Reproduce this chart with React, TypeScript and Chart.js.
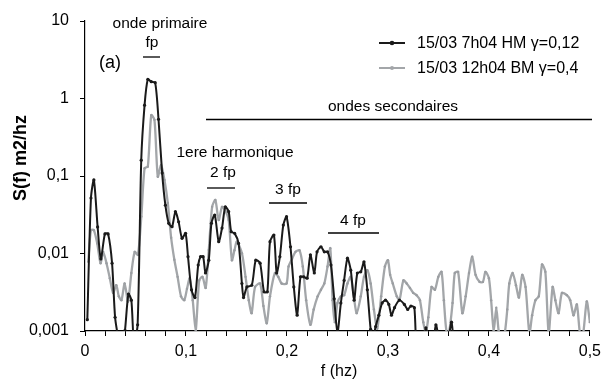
import React, { useEffect, useRef } from "react";
import { Chart, registerables } from "chart.js";
Chart.register(...registerables);

// Frequencies (Hz) and spectral density S(f) (m2/Hz)
const blackFreq = [
  0.0023, 0.0059, 0.0088, 0.0125, 0.0157, 0.0197, 0.0229, 0.0268, 0.0298, 0.033,
  0.036, 0.0396, 0.043, 0.0459, 0.0485, 0.0521, 0.0557, 0.059, 0.0622, 0.0656,
  0.0695, 0.0728, 0.0764, 0.0796, 0.0829, 0.0862, 0.0895, 0.0927, 0.0961, 0.0996,
  0.102, 0.1055, 0.1089, 0.1121, 0.1144, 0.117, 0.1193, 0.1226, 0.1252, 0.1285,
  0.1324, 0.1357, 0.1389, 0.1423, 0.1448, 0.1482, 0.1521, 0.1554, 0.157, 0.1603,
  0.1652, 0.1691, 0.1734, 0.1773, 0.1806, 0.1832, 0.1871, 0.1898, 0.193, 0.1964,
  0.1996, 0.2035, 0.2068, 0.2101, 0.2134, 0.2166, 0.22, 0.2232, 0.2271, 0.2298,
  0.2337, 0.237, 0.2402, 0.2436, 0.2468, 0.25, 0.2534, 0.2566, 0.2599, 0.2632,
  0.2665, 0.2697, 0.2731, 0.2763, 0.2796, 0.2829, 0.2852, 0.2878, 0.291, 0.2943,
  0.2976, 0.3009, 0.3035, 0.3065, 0.3114, 0.3163, 0.3196, 0.3228, 0.3262, 0.3287,
  0.332, 0.335, 0.3376, 0.341, 0.344, 0.3475, 0.351, 0.354, 0.357, 0.36,
  0.363, 0.366,
];
const blackS = [
  0.0014, 0.052, 0.089, 0.022, 0.0085, 0.0179, 0.0179, 0.0075, 0.0015, 0.0008,
  0.0005, 0.00102, 0.003, 0.0025, 0.0007, 0.0012, 0.16, 0.82, 1.77, 1.65,
  1.6, 0.54, 0.109, 0.042, 0.0245, 0.0222, 0.0346, 0.0257, 0.0157, 0.0182,
  0.0091, 0.0034, 0.0027, 0.0071, 0.0091, 0.0091, 0.0056, 0.0082, 0.0245, 0.0314,
  0.0142, 0.0213, 0.04, 0.0346, 0.0191, 0.0182, 0.0135, 0.0041, 0.0027, 0.0037,
  0.0039, 0.0082, 0.0075, 0.0032, 0.0032, 0.0142, 0.0173, 0.0056, 0.0091, 0.0233,
  0.0299, 0.0122, 0.0037, 0.0016, 0.005, 0.005, 0.0048, 0.0096, 0.0056, 0.0105,
  0.0122, 0.0105, 0.0105, 0.0071, 0.0026, 0.00095, 0.0023, 0.0045, 0.0087, 0.0061,
  0.0025, 0.0056, 0.0058, 0.0078, 0.0034, 0.00105, 0.0008, 0.00114, 0.0016, 0.0023,
  0.0025, 0.0022, 0.0016, 0.002, 0.0025, 0.0022, 0.0019, 0.0021, 0.002, 0.0004,
  0.0005, 0.0007, 0.0011, 0.0007, 0.0006, 0.0012, 0.0007, 0.0005, 0.0006, 0.0008,
  0.0013, 0.0005,
];
const grayFreq = [
  0.0032, 0.0059, 0.0088, 0.0121, 0.0154, 0.018, 0.0213, 0.0246, 0.0278, 0.031,
  0.0335, 0.0361, 0.0393, 0.0426, 0.0459, 0.0492, 0.0524, 0.0558, 0.059, 0.0622,
  0.0656, 0.0688, 0.0721, 0.0754, 0.0787, 0.082, 0.0853, 0.0885, 0.0917, 0.0951,
  0.0983, 0.101, 0.1037, 0.1067, 0.1096, 0.1131, 0.1163, 0.1195, 0.1226, 0.1259,
  0.1291, 0.1324, 0.1357, 0.1389, 0.1423, 0.1455, 0.148, 0.1504, 0.1554, 0.159,
  0.1622, 0.165, 0.1684, 0.1734, 0.1767, 0.18, 0.1832, 0.1881, 0.1914, 0.1947,
  0.1996, 0.2016, 0.205, 0.2085, 0.2124, 0.2157, 0.219, 0.2232, 0.2265, 0.2304,
  0.2337, 0.237, 0.2402, 0.2429, 0.2452, 0.2475, 0.25, 0.2534, 0.2566, 0.2599,
  0.2632, 0.2665, 0.2691, 0.2731, 0.2763, 0.2796, 0.2829, 0.2861, 0.2894, 0.2933,
  0.297, 0.3, 0.3022, 0.3048, 0.3088, 0.3114, 0.3153, 0.3186, 0.3218, 0.3251,
  0.3284, 0.3317, 0.335, 0.3376, 0.34, 0.3432, 0.3465, 0.3499, 0.3531, 0.3554,
  0.3581, 0.3607, 0.364, 0.3662, 0.3695, 0.3737, 0.377, 0.3803, 0.3835, 0.3868,
  0.3908, 0.3941, 0.3966, 0.4, 0.4022, 0.4048, 0.4073, 0.4097, 0.4129, 0.416,
  0.4182, 0.4202, 0.4235, 0.4268, 0.4297, 0.433, 0.4363, 0.4401, 0.4428, 0.4461,
  0.4494, 0.4526, 0.4559, 0.4592, 0.4631, 0.4658, 0.469, 0.4723, 0.4772, 0.4805,
  0.4838, 0.4871, 0.4904, 0.493, 0.4969, 0.5,
];
const grayS = [
  0.0078, 0.02, 0.02, 0.0135, 0.0075, 0.0105, 0.0075, 0.0048, 0.0031, 0.0039,
  0.0028, 0.0025, 0.0041, 0.0024, 0.0056, 0.0105, 0.0096, 0.03, 0.126, 0.132,
  0.61, 0.53, 0.098, 0.139, 0.089, 0.045, 0.016, 0.0083, 0.005, 0.0028,
  0.0025, 0.0035, 0.0048, 0.0025, 0.001, 0.0045, 0.005, 0.0036, 0.0111, 0.04,
  0.049, 0.027, 0.04, 0.036, 0.027, 0.0082, 0.011, 0.0142, 0.0101, 0.005,
  0.0025, 0.0017, 0.0037, 0.0041, 0.0021, 0.00126, 0.0028, 0.0056, 0.005, 0.0041,
  0.0041, 0.0068, 0.0085, 0.0105, 0.011, 0.0068, 0.0025, 0.0012, 0.0019, 0.0028,
  0.0034, 0.0041, 0.0068, 0.0117, 0.0025, 0.0013, 0.0023, 0.0028, 0.0029, 0.0041,
  0.005, 0.0026, 0.0017, 0.0028, 0.005, 0.0061, 0.0041, 0.0019, 0.00107, 0.0028,
  0.0068, 0.0082, 0.0053, 0.0041, 0.0028, 0.0025, 0.0045, 0.0041, 0.0036, 0.0031,
  0.0029, 0.0025, 0.0013, 0.00096, 0.0015, 0.0037, 0.0034, 0.005, 0.0058, 0.0025,
  0.00096, 0.001, 0.0023, 0.0056, 0.0058, 0.0017, 0.0028, 0.0056, 0.0091, 0.0053,
  0.0043, 0.0043, 0.0058, 0.0048, 0.0025, 0.001, 0.002, 0.001, 0.0007, 0.001,
  0.0019, 0.0041, 0.0056, 0.0039, 0.0027, 0.0053, 0.0037, 0.00093, 0.0016, 0.0025,
  0.0028, 0.0072, 0.0058, 0.00093, 0.0037, 0.0025, 0.0017, 0.0031, 0.0029, 0.0025,
  0.0016, 0.0022, 0.00088, 0.00085, 0.0024, 0.0013,
];
const yTickValues = [0.001, 0.01, 0.1, 1, 10];
const seriesLabels = ["15/03 7h04 HM \u03b3=0,12", "15/03 12h04 BM \u03b3=0,4"];
const xTitle = "f (hz)";
const yTitle = "S(f) m2/hz";

const BLACK = "#1a1a1a";
const GRAY = "#a3a6a9";
const FONT = "'Liberation Sans', Arial, sans-serif";

const fmt = (v: number) => String(v).replace(".", ",");

export default function App() {
  const ref = useRef<HTMLCanvasElement>(null);
  useEffect(() => {
    document.body.style.margin = "0";
    const annot = {
      id: "annot",
      afterDraw(chart: any) {
        const ctx = chart.ctx as CanvasRenderingContext2D;
        ctx.save();
        ctx.fillStyle = "#000";
        ctx.strokeStyle = "#000";
        ctx.textAlign = "center";
        ctx.textBaseline = "middle";
        ctx.font = `15.5px ${FONT}`;
        const txt = (t: string, x: number, y: number) => ctx.fillText(t, x, y);
        const hl = (x1: number, x2: number, y: number) => {
          ctx.beginPath();
          ctx.lineWidth = 1.3;
          ctx.moveTo(x1, y);
          ctx.lineTo(x2, y);
          ctx.stroke();
        };
        txt("onde primaire", 160, 24);
        txt("fp", 152, 43);
        hl(143, 160, 57);
        ctx.font = `18px ${FONT}`;
        txt("(a)", 110, 63);
        ctx.font = `15.5px ${FONT}`;
        txt("ondes secondaires", 393, 107);
        hl(206, 592, 119.5);
        txt("1ere harmonique", 235, 153);
        txt("2 fp", 223, 173);
        hl(207, 235, 188);
        txt("3 fp", 288, 190);
        hl(269, 307, 203);
        txt("4 fp", 353, 221);
        hl(328, 379, 233);

        // legend
        const leg = [
          { c: BLACK, y: 43, r: 1.8 },
          { c: GRAY, y: 68, r: 1.5 },
        ];
        ctx.font = `16px ${FONT}`;
        ctx.textAlign = "left";
        leg.forEach((l, i) => {
          ctx.strokeStyle = l.c;
          ctx.lineWidth = 2;
          ctx.beginPath();
          ctx.moveTo(379, l.y);
          ctx.lineTo(405, l.y);
          ctx.stroke();
          ctx.fillStyle = l.c;
          ctx.beginPath();
          ctx.arc(392, l.y, l.r + 0.5, 0, Math.PI * 2);
          ctx.fill();
          ctx.fillStyle = "#000";
          ctx.fillText(seriesLabels[i], 417, l.y + 1);
        });

        // axis titles
        ctx.textAlign = "center";
        ctx.font = `16px ${FONT}`;
        ctx.fillText(xTitle, 339, 372);
        ctx.save();
        ctx.translate(21, 158);
        ctx.rotate(-Math.PI / 2);
        ctx.font = `bold 18px ${FONT}`;
        ctx.fillText(yTitle, 0, 0);
        ctx.restore();
        ctx.restore();
      },
    };

    const chart = new Chart(ref.current!, {
      type: "line",
      data: {
        datasets: [
          {
            label: seriesLabels[0],
            data: blackFreq.map((f, i) => ({ x: f, y: blackS[i] })),
            borderColor: BLACK,
            backgroundColor: BLACK,
            borderWidth: 2,
            pointRadius: 1.6,
            pointBorderWidth: 0,
            pointHoverRadius: 0,
            tension: 0.25,
          },
          {
            label: seriesLabels[1],
            data: grayFreq.map((f, i) => ({ x: f, y: grayS[i] })),
            borderColor: GRAY,
            backgroundColor: "#9a9da1",
            borderWidth: 2.3,
            pointRadius: 1.2,
            pointBorderWidth: 0,
            pointHoverRadius: 0,
            tension: 0.25,
          },
        ],
      },
      options: {
        animation: false,
        responsive: false,
        maintainAspectRatio: false,
        events: [],
        layout: { padding: { top: 21, right: 14, left: 0, bottom: 0 } },
        plugins: { legend: { display: false }, tooltip: { enabled: false } },
        scales: {
          x: {
            type: "linear",
            min: 0,
            max: 0.5,
            border: { color: "#000", width: 1.2 },
            grid: { drawOnChartArea: false, drawTicks: true, tickLength: 5, color: "#000", lineWidth: 1 },
            ticks: {
              stepSize: 0.02,
              autoSkip: false,
              maxRotation: 0,
              color: "#000",
              padding: 6,
              font: { family: FONT, size: 16 },
              callback: (v: any) => {
                const t = Number(v) * 10;
                return Math.abs(t - Math.round(t)) < 1e-6 ? fmt(Math.round(t) / 10) : "";
              },
            },
            afterFit: (s: any) => {
              s.height = 52;
            },
          },
          y: {
            type: "logarithmic",
            min: 0.001,
            max: 10,
            border: { color: "#000", width: 1.2 },
            grid: { drawOnChartArea: false, drawTicks: true, tickLength: 5, color: "#000", lineWidth: 1 },
            afterBuildTicks: (s: any) => {
              s.ticks = yTickValues.map((v) => ({ value: v }));
            },
            ticks: {
              color: "#000",
              padding: 11,
              font: { family: FONT, size: 16 },
              callback: (v: any) => fmt(Number(v)),
            },
            afterFit: (s: any) => {
              s.width = 85;
            },
          },
        },
      },
      plugins: [annot],
    });
    return () => chart.destroy();
  }, []);
  return <canvas ref={ref} width={607} height={383} style={{ display: "block" }} />;
}
